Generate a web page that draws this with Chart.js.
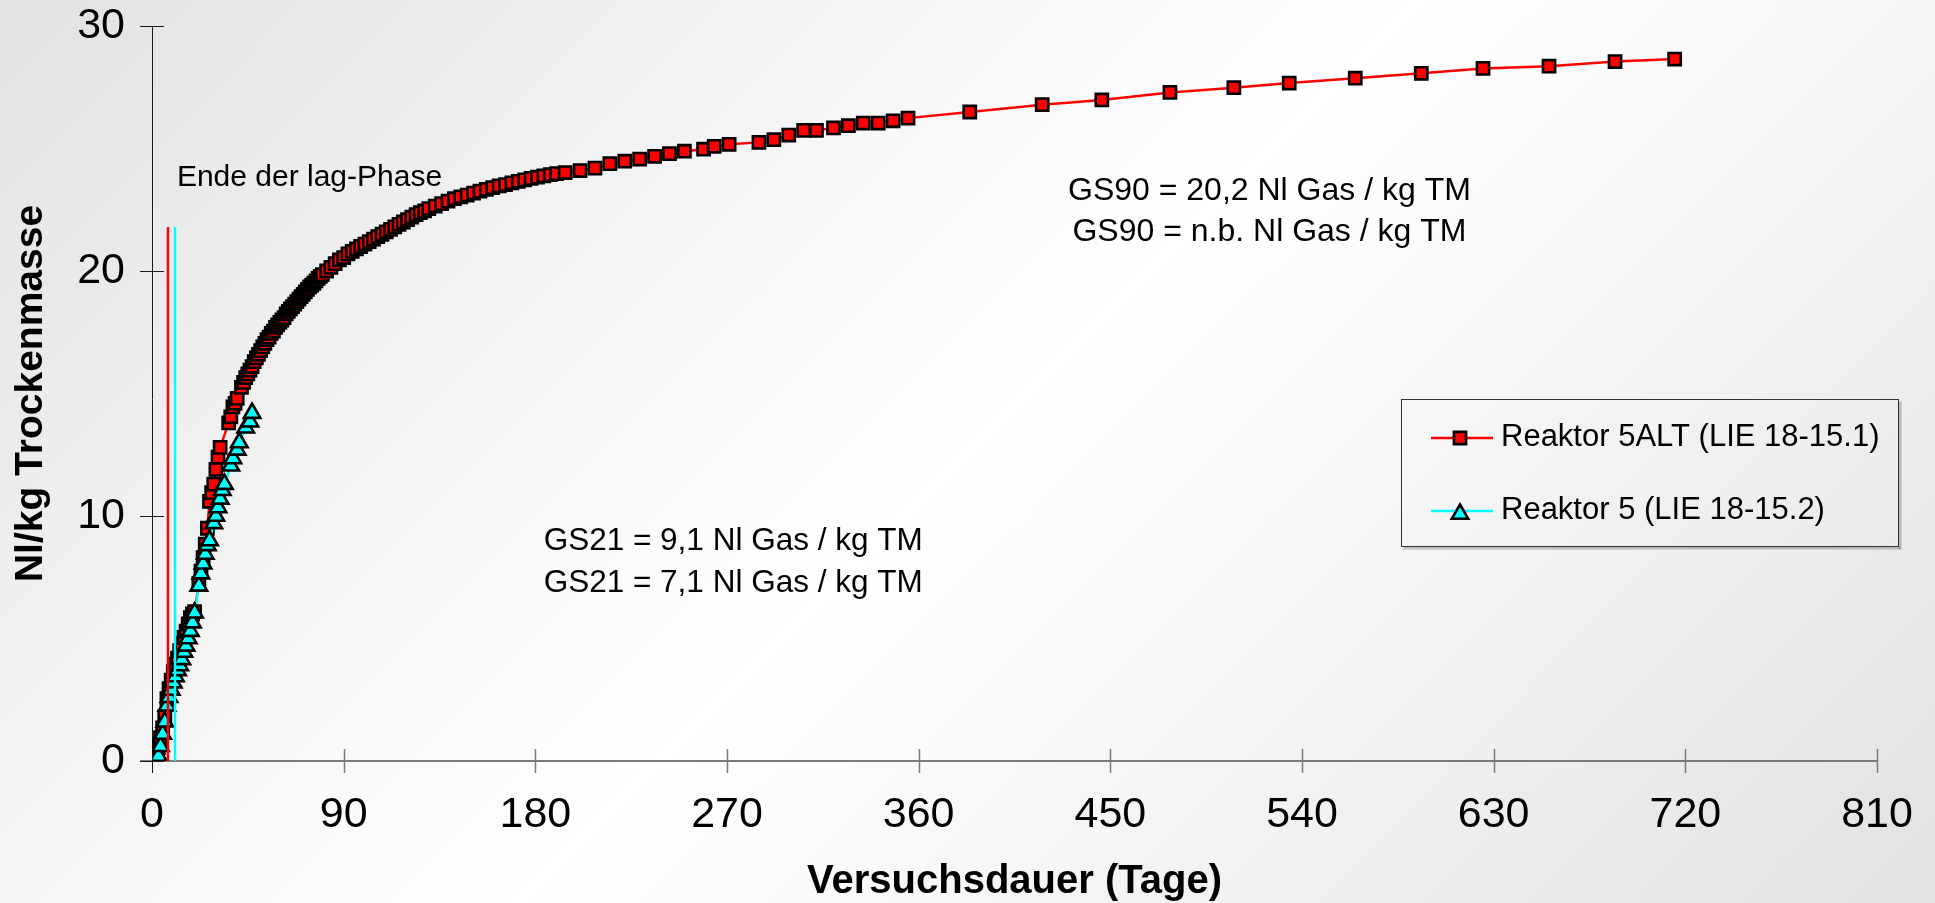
<!DOCTYPE html>
<html><head><meta charset="utf-8">
<script src="https://cdn.jsdelivr.net/npm/chart.js@4.4.0/dist/chart.umd.min.js"></script>
<style>
html,body{margin:0;padding:0;}
body{width:1935px;height:903px;overflow:hidden;background:linear-gradient(135deg,#e2e2e2 0%,#f7f7f7 35%,#ffffff 50%,#f7f7f7 65%,#e2e2e2 100%);}
#wrap{position:relative;width:1935px;height:903px;}
</style></head><body><div id="wrap"><canvas id="c"></canvas></div>
<script>
// ---- data ----
const xTicks = [0, 90, 180, 270, 360, 450, 540, 630, 720, 810];
const yTicks = [0, 10, 20, 30];
const xTitle = 'Versuchsdauer (Tage)';
const yTitle = 'Nl/kg Trockenmasse';
const seriesNames = ['Reaktor 5ALT (LIE 18-15.1)', 'Reaktor 5 (LIE 18-15.2)'];

const redDays = [0,1,2,3,4,5,6,7,8,9,10,11,12,13,14,15,16,17,18,19,20,22,23,24,25,26,27,28,29,30,31,32,36,37,38,39,40,
  42,43,44,45,46,47,48,49,50,51,52,53,54,55,56,57,58,59,60,61,62,63,64,65,66,67,68,69,70,71,72,73,74,75,76,77,78,79,80,
  82,84,86,88,90,92,94,96,98,100,102,104,106,108,110,112,114,116,118,120,122,124,126,128,130,
  133,136,139,142,145,148,151,154,157,160,163,166,169,172,175,178,181,184,187,190,
  194,201,208,215,222,229,236,243,250,259,264,271,285,292,299,306,312,320,327,334,341,348,355,
  384,418,446,478,508,534,565,596,625,656,687,715];
const redValues = [0,0.05,0.15,0.55,0.95,1.35,1.8,2.55,2.95,3.3,3.65,3.95,4.2,4.5,4.8,5.05,5.3,5.6,5.85,6.0,6.1,7.25,7.75,8.3,8.85,9.5,10.6,10.95,11.3,11.9,12.4,12.8,13.8,14.05,14.45,14.6,14.8,
  15.25,15.45,15.65,15.8,15.95,16.1,16.3,16.45,16.6,16.75,16.9,17.05,17.2,17.3,17.45,17.55,17.7,17.8,17.9,18.0,18.1,18.25,18.35,18.45,18.55,18.65,18.75,18.85,18.95,19.05,19.15,19.25,19.35,19.42,19.5,19.6,19.7,19.78,19.85,
  20.0,20.15,20.3,20.45,20.55,20.7,20.8,20.9,21.0,21.1,21.2,21.3,21.4,21.5,21.6,21.7,21.8,21.9,22.0,22.1,22.2,22.3,22.38,22.45,22.55,
  22.65,22.75,22.85,22.95,23.03,23.1,23.18,23.26,23.33,23.4,23.47,23.53,23.6,23.66,23.72,23.78,23.83,23.88,23.93,23.97,
  24.02,24.1,24.2,24.38,24.48,24.57,24.68,24.79,24.89,24.97,25.09,25.17,25.25,25.36,25.55,25.74,25.74,25.84,25.93,26.04,26.04,26.13,26.24,
  26.49,26.79,26.98,27.29,27.48,27.67,27.87,28.07,28.27,28.36,28.55,28.65];

const cyanDays = [0,1,2,3,4,5,6,7,8,9,10,11,12,13,14,15,16,17,18,19,20,22,23,24,25,26,27,29,30,31,32,33,34,37,38,40,41,44,46,47];
const cyanValues = [0,0.05,0.1,0.2,0.6,1.1,1.6,2.25,2.6,2.9,3.2,3.45,3.7,3.9,4.15,4.45,4.7,5.0,5.3,5.65,6.05,7.15,7.65,8.05,8.45,8.8,9.0,9.7,10.0,10.35,10.7,11.05,11.3,12.05,12.35,12.7,13.0,13.6,13.85,14.2];

const lagRedDays = [7.5, 7.5];
const lagRedValues = [0, 21.8];
const lagCyanDays = [10.8, 10.8];
const lagCyanValues = [0, 21.8];

const noteTexts = ['Ende der lag-Phase', 'GS21 = 9,1 Nl Gas / kg TM', 'GS21 = 7,1 Nl Gas / kg TM', 'GS90 = 20,2 Nl Gas / kg TM', 'GS90 = n.b. Nl Gas / kg TM'];
const noteAnchorDays = [11.7, 183.9, 183.9, 524.7, 524.7];
const noteAnchorValues = [23.46, 8.6, 6.9, 22.89, 21.21];
const noteAligns = ['left', 'left', 'left', 'center', 'center'];
const noteSizes = [30, 31.5, 31.5, 32, 32];

// ---- chart ----
const FONT = "'Liberation Sans', Arial, sans-serif";
const pts = (xs, ys) => xs.map((d, i) => ({x: d, y: ys[i]}));

const axesPlugin = {
  id: 'customAxes',
  beforeDatasetsDraw(chart) {
    const {ctx, scales: {x, y}} = chart;
    const x0 = x.getPixelForValue(0), y0 = y.getPixelForValue(0);
    ctx.save();
    ctx.strokeStyle = '#7a7a7a';
    ctx.lineWidth = 2;
    ctx.beginPath(); ctx.moveTo(x0 - 12, y0); ctx.lineTo(x.getPixelForValue(xTicks[xTicks.length - 1]), y0); ctx.stroke();
    ctx.lineWidth = 1.5;
    xTicks.forEach(v => {
      if (v === 0) return;
      const px = Math.round(x.getPixelForValue(v)) + 0.5;
      ctx.beginPath(); ctx.moveTo(px, y0 - 12); ctx.lineTo(px, y0 + 12); ctx.stroke();
    });
    ctx.strokeStyle = '#1a1a1a';
    ctx.lineWidth = 1;
    const xa = Math.round(x0) + 0.5;
    ctx.beginPath(); ctx.moveTo(xa, y.getPixelForValue(yTicks[yTicks.length - 1])); ctx.lineTo(xa, y0 + 12); ctx.stroke();
    yTicks.forEach(v => {
      const py = Math.round(y.getPixelForValue(v)) + 0.5;
      ctx.beginPath(); ctx.moveTo(x0 - 12, py); ctx.lineTo(x0 + 12, py); ctx.stroke();
    });
    ctx.restore();
  },
  afterDraw(chart) {
    const {ctx, scales: {x, y}} = chart;
    ctx.save();
    ctx.fillStyle = '#000';
    ctx.textBaseline = 'alphabetic';
    noteTexts.forEach((t, i) => {
      ctx.font = noteSizes[i] + 'px ' + FONT;
      ctx.textAlign = noteAligns[i];
      ctx.fillText(t, x.getPixelForValue(noteAnchorDays[i]), y.getPixelForValue(noteAnchorValues[i]));
    });
    // legend
    const L = 1401.5, T = 399.5, W = 497, H = 147;
    ctx.fillStyle = 'rgba(90,90,90,0.35)';
    ctx.fillRect(L + 2, T + H, W, 3);
    ctx.fillRect(L + W, T + 2, 3, H + 1);
    ctx.strokeStyle = '#333';
    ctx.lineWidth = 1;
    ctx.strokeRect(L, T, W, H);
    const rows = [438, 511];
    [0, 1].forEach(k => {
      const ds = chart.data.datasets[k];
      const ly = rows[k];
      ctx.strokeStyle = ds.borderColor;
      ctx.lineWidth = ds.borderWidth;
      ctx.beginPath(); ctx.moveTo(1431, ly); ctx.lineTo(1493, ly); ctx.stroke();
      ctx.fillStyle = ds.pointBackgroundColor;
      ctx.strokeStyle = ds.pointBorderColor;
      ctx.lineWidth = ds.pointBorderWidth;
      Chart.helpers.drawPoint(ctx, {pointStyle: ds.pointStyle, radius: ds.pointRadius, borderWidth: ds.pointBorderWidth, rotation: 0}, 1460, ly + (k === 1 ? 3 : 0));
      ctx.fillStyle = '#000';
      ctx.textAlign = 'left';
      ctx.font = '31px ' + FONT;
      ctx.fillText(ds.label, 1501, ly + 8);
    });
    ctx.restore();
  }
};

new Chart(document.getElementById('c'), {
  type: 'scatter',
  data: {
    datasets: [
      {label: seriesNames[0], data: pts(redDays, redValues), showLine: true, borderColor: '#ff0000', borderWidth: 2.5,
       pointStyle: 'rect', pointRadius: 8.6, pointBackgroundColor: '#ff0000', pointBorderColor: '#000000', pointBorderWidth: 2.6, order: 4},
      {label: seriesNames[1], data: pts(cyanDays, cyanValues), showLine: true, borderColor: '#00ffff', borderWidth: 2.5,
       pointStyle: 'triangle', pointRadius: 9.5, pointBackgroundColor: '#00ffff', pointBorderColor: '#000000', pointBorderWidth: 2.6, order: 3},
      {label: 'lagRed', data: pts(lagRedDays, lagRedValues), showLine: true, borderColor: '#ff0000', borderWidth: 2.5, pointRadius: 0, order: 2},
      {label: 'lagCyan', data: pts(lagCyanDays, lagCyanValues), showLine: true, borderColor: '#00ffff', borderWidth: 2.5, pointRadius: 0, order: 1}
    ]
  },
  options: {
    responsive: true,
    maintainAspectRatio: false,
    animation: false,
    events: [],
    layout: {padding: {left: 0, right: 58, top: 26, bottom: 0}},
    plugins: {legend: {display: false}, tooltip: {enabled: false}},
    scales: {
      x: {
        type: 'linear', min: xTicks[0], max: xTicks[xTicks.length - 1],
        afterBuildTicks: s => { s.ticks = xTicks.map(v => ({value: v})); },
        afterFit: s => { s.height = 142; s.paddingLeft = 0; s.paddingRight = 0; },
        grid: {display: false, drawTicks: false},
        border: {display: false},
        ticks: {color: '#000', font: {family: FONT, size: 43}, padding: 28, maxRotation: 0, autoSkip: false},
        title: {display: true, text: xTitle, color: '#000', font: {family: FONT, size: 40, weight: 'bold', lineHeight: 1}, padding: {top: 0, bottom: 1}}
      },
      y: {
        type: 'linear', min: yTicks[0], max: yTicks[yTicks.length - 1],
        afterBuildTicks: s => { s.ticks = yTicks.map(v => ({value: v})); },
        afterFit: s => { s.width = 152; s.paddingTop = 0; s.paddingBottom = 0; },
        grid: {display: false, drawTicks: false},
        border: {display: false},
        ticks: {color: '#000', font: {family: FONT, size: 43}, padding: 27, autoSkip: false},
        title: {display: true, text: yTitle, color: '#000', font: {family: FONT, size: 39, weight: 'bold', lineHeight: 1}, padding: {top: 12, bottom: 0}}
      }
    }
  },
  plugins: [axesPlugin]
});
</script></body></html>
